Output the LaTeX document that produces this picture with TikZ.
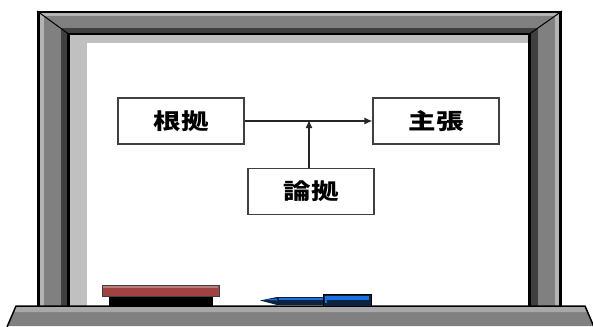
\documentclass[tikz,border=0pt]{standalone}
\usepackage{fontspec}
\newfontfamily\cjk{Noto Sans CJK JP}
\usetikzlibrary{arrows.meta}
\definecolor{fmid}{HTML}{808080}
\definecolor{fdark}{HTML}{404040}
\definecolor{flight}{HTML}{B4B4B4}
\definecolor{mat}{HTML}{C0C0C0}
\definecolor{shelftop}{HTML}{A8A8A8}
\definecolor{eraserred}{HTML}{A04242}
\definecolor{penblue}{HTML}{1A70E0}
\definecolor{pennavy}{HTML}{0B2240}
\tikzset{
  box/.style={draw=fdark, line width=1.2pt, fill=white, minimum width=126pt, minimum height=46pt, inner sep=0pt,
    font=\cjk\bfseries\fontsize{22}{22}\selectfont},
  conn/.style={draw=black!85, line width=1.3pt, -{Latex[length=8pt,width=7pt]}},
}
\newcommand{\framepoly}[2]{%
  \fill[#2] ({37+33*#1},306) -- ({37+33*#1},{11+24*#1}) -- ({562-34*#1},{11+24*#1}) -- ({562-34*#1},306) -- cycle;}
\begin{document}
\begin{tikzpicture}[x=1pt,y=-1pt]
\useasboundingbox (0,0) rectangle (593,326);
\fill[white] (0,0) rectangle (593,326);
% frame bands
\framepoly{0}{black}
\framepoly{0.09}{flight}
\framepoly{0.2}{fmid}
\framepoly{0.72}{fdark}
\framepoly{0.91}{black}
% board surface
\fill[mat] (70,35) rectangle (528,306);
\fill[white] (87,43) rectangle (528,306);
% corner mitres
\draw[black, line width=1pt] (37,11) -- (70,35);
\draw[black, line width=1pt] (562,11) -- (528,35);
% shelf
\fill[fmid] (16,306) -- (585,306) -- (594,326) -- (7,326) -- cycle;
\fill[shelftop] (16,307) -- (585,307) -- (587,312) -- (14,312) -- cycle;
\draw[black, line width=1.5pt, line join=round] (7,327) -- (16,306) -- (585,306) -- (594,327);
% eraser
\fill[black] (109,295) rectangle (213,306);
\filldraw[fill=eraserred, draw=fdark, line width=0.6pt] (102,285) rectangle (219,296);
\fill[eraserred!70!white] (103,285.5) rectangle (218,287.5);
% pen
\filldraw[fill=pennavy, draw=black, line width=0.8pt] (323,294) rectangle (371,306);
\fill[penblue] (325,295.5) rectangle (369,299.5);
\fill[penblue] (325,295.5) rectangle (327,303);
\fill[pennavy] (277,297) rectangle (323,305);
\fill[penblue] (279,298.3) rectangle (323,300);
\fill[pennavy] (260,300.5) -- (277,297) -- (277,305) -- cycle;
\fill[penblue] (264,300) -- (277,298.5) -- (277,300.5) -- cycle;
% diagram
\node[box] (grounds) at (181,121) {\scalebox{1.25}[1]{根拠}};
\node[box] (claim) at (436,121) {\scalebox{1.25}[1]{主張}};
\node[box] (warrant) at (311,191.5) {\scalebox{1.25}[1]{論拠}};
\coordinate (join) at (309,121);
\draw[conn] (grounds) -- (claim);
\draw[conn] (warrant.north -| join) -- ([yshift=1pt]join);
\end{tikzpicture}
\end{document}
